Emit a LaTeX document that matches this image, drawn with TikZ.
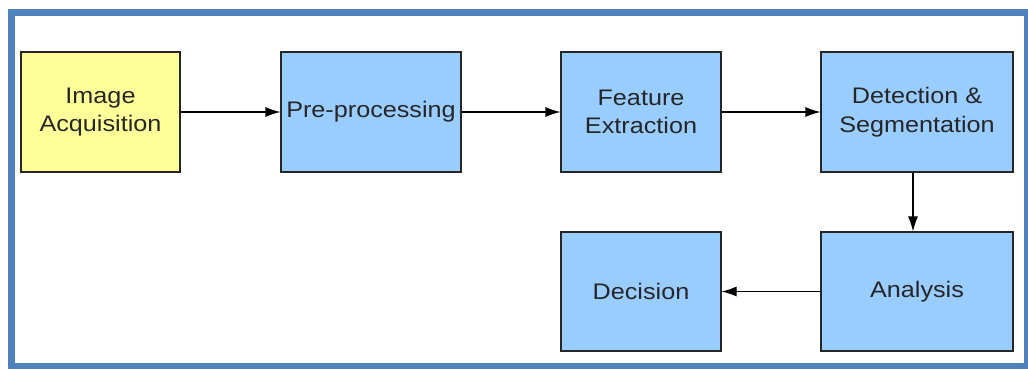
\documentclass[tikz,border=0pt]{standalone}
\usepackage{fontspec}
\setmainfont{Liberation Sans}[FakeStretch=1.12]
\usetikzlibrary{arrows.meta}

\definecolor{framecol}{HTML}{4F81BD}
\definecolor{stepblue}{HTML}{99CCFF}
\definecolor{stepyellow}{HTML}{FFFF99}

\tikzset{
  stagebox/.style={draw=black!85,line width=1.1pt,fill=stepblue,
    align=center,inner sep=0pt,font=\fontsize{22.5}{28.5}\selectfont,
    text=black!85,minimum height=120pt},
  flow/.style={line width=1.1pt,-{Latex[length=15pt,width=10pt]}}
}

\begin{document}
\begin{tikzpicture}[x=1pt,y=-1pt]
  \useasboundingbox (0,0) rectangle (1028,369);
  \draw[framecol,line width=7pt] (11.5,12.5) rectangle (1027.5,366);

  % top row
  \node[stagebox,fill=stepyellow,minimum width=159pt] (acq) at (100.5,112) {Image\\Acquisition};
  \node[stagebox,minimum width=180pt] (pre) at (371,112) {Pre-processing};
  \node[stagebox,minimum width=160pt] (feat) at (641,112) {Feature\\Extraction};
  \node[stagebox,minimum width=192pt] (det) at (917,112) {Detection \&\\Segmentation};

  % bottom row
  \node[stagebox,minimum width=160pt,minimum height=119pt] (dec) at (641,291.5) {Decision};
  \node[stagebox,minimum width=192pt,minimum height=119pt] (ana) at (917,291.5) {Analysis};

  \draw[flow] (acq) -- (pre);
  \draw[flow] (pre) -- (feat);
  \draw[flow] (feat) -- (det);
  \draw[flow] ([xshift=-4pt]det.south) -- ([xshift=-4pt]ana.north);
  \draw[flow] (ana) -- (dec);
\end{tikzpicture}
\end{document}
